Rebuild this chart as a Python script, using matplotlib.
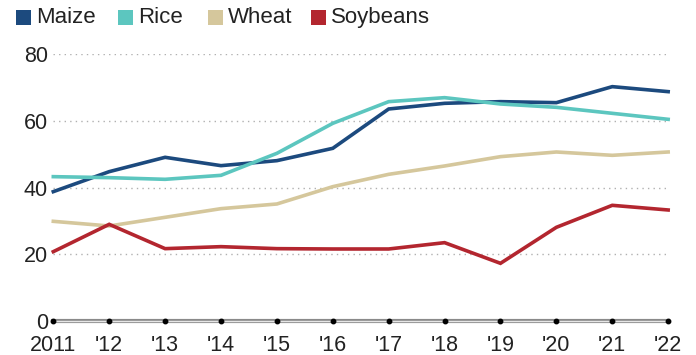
import numpy as np
import matplotlib.pyplot as plt
from matplotlib.patches import Rectangle

plt.rcParams['font.family'] = ['Liberation Sans', 'DejaVu Sans']

# ---- data ----
years = np.arange(2011, 2023)
year_labels = ["2011", "'12", "'13", "'14", "'15", "'16", "'17", "'18", "'19", "'20", "'21", "'22"]

maize = [38.8, 44.8, 49.1, 46.6, 48.1, 51.8, 63.6, 65.3, 65.8, 65.5, 70.3, 68.8]
rice = [43.3, 43.0, 42.5, 43.7, 50.3, 59.3, 65.8, 67.0, 65.1, 64.1, 62.3, 60.5]
wheat = [29.9, 28.5, 31.1, 33.7, 35.1, 40.3, 44.0, 46.5, 49.3, 50.7, 49.7, 50.7]
soybeans = [20.8, 29.0, 21.7, 22.3, 21.7, 21.6, 21.6, 23.5, 17.3, 28.1, 34.7, 33.3]

names = ["Maize", "Rice", "Wheat", "Soybeans"]
colors = ["#1c4a7e", "#5cc6bf", "#d5c79c", "#b3262f"]
series = [maize, rice, wheat, soybeans]

fig = plt.figure(figsize=(6.96, 3.55), dpi=100)
ax = fig.add_axes([0.0766, 0.0958, 0.8834, 0.7512])

# dotted gridlines
for v in [20, 40, 60, 80]:
    ax.axhline(v, color="#b0b0b0", lw=1.0, ls=(0, (1, 3)), zorder=1)

# baseline
ax.axhline(0, color="#8a8a8a", lw=3.0, zorder=2, clip_on=False)
ax.axhline(0, color="#e6e6e6", lw=1.0, zorder=2, clip_on=False)
ax.plot(years, np.zeros(len(years)), ls="none", marker="o", ms=3.2, color="black",
        zorder=3, clip_on=False)

for s, c in zip(series, colors):
    ax.plot(years, s, color=c, lw=2.6, zorder=4, solid_joinstyle="miter", clip_on=False)

ax.set_xlim(2011, 2022)
ax.set_ylim(0, 80)
ax.set_yticks([0, 20, 40, 60, 80])
ax.set_yticklabels(["0", "20", "40", "60", "80"], fontsize=15.5, color="#222222")
ax.set_xticks(years)
ax.set_xticklabels(year_labels, fontsize=15.5, color="#222222")
ax.tick_params(axis="both", length=0)
ax.tick_params(axis="y", pad=4)
ax.tick_params(axis="x", pad=10)
for sp in ax.spines.values():
    sp.set_visible(False)

# legend across the top
leg_x = [16, 118, 208, 311]
for x0, name, c in zip(leg_x, names, colors):
    fig.patches.append(Rectangle((x0 / 696, 1 - 25 / 355), 15 / 696, 15 / 355,
                                 transform=fig.transFigure, facecolor=c, edgecolor="none"))
    fig.text((x0 + 20) / 696, 1 - 17.5 / 355, name, fontsize=16, color="#222222",
             va="center", ha="left")

fig.savefig("out.png", dpi=100)
